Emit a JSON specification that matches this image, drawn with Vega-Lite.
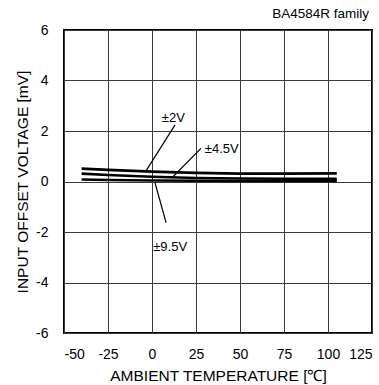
{
  "$schema": "https://vega.github.io/schema/vega-lite/v6.json",
  "width": 308,
  "height": 303,
  "autosize": "none",
  "padding": {"left": 64, "top": 30, "right": 7, "bottom": 52},
  "background": "white",
  "title": {"text": "BA4584R  family", "anchor": "end", "frame": "group", "offset": 3, "fontSize": 13.5, "fontWeight": "normal", "font": "Liberation Sans", "color": "black", "dx": -3},
  "config": {
    "font": "Liberation Sans",
    "view": {"stroke": "black", "strokeWidth": 2},
    "axis": {"labelFont": "Liberation Sans", "titleFont": "Liberation Sans", "labelFontSize": 14, "titleFontSize": 15.5, "titleFontWeight": "normal", "labelColor": "black", "titleColor": "black", "gridColor": "#3a3a3a", "gridOpacity": 1, "gridWidth": 1, "ticks": false, "domain": false, "labelExpr": "'' + datum.value"}
  },
  "datasets": {
    "curves": [
      {"temp": -40, "mv": 0.51, "series": "2V"},
      {"temp": -25, "mv": 0.46, "series": "2V"},
      {"temp": 0, "mv": 0.39, "series": "2V"},
      {"temp": 25, "mv": 0.34, "series": "2V"},
      {"temp": 50, "mv": 0.31, "series": "2V"},
      {"temp": 75, "mv": 0.31, "series": "2V"},
      {"temp": 105, "mv": 0.32, "series": "2V"},
      {"temp": -40, "mv": 0.31, "series": "4.5V"},
      {"temp": -25, "mv": 0.26, "series": "4.5V"},
      {"temp": 0, "mv": 0.19, "series": "4.5V"},
      {"temp": 25, "mv": 0.14, "series": "4.5V"},
      {"temp": 50, "mv": 0.12, "series": "4.5V"},
      {"temp": 75, "mv": 0.11, "series": "4.5V"},
      {"temp": 105, "mv": 0.11, "series": "4.5V"},
      {"temp": -40, "mv": 0.08, "series": "9.5V"},
      {"temp": -25, "mv": 0.06, "series": "9.5V"},
      {"temp": 0, "mv": 0.04, "series": "9.5V"},
      {"temp": 25, "mv": 0.03, "series": "9.5V"},
      {"temp": 50, "mv": 0.02, "series": "9.5V"},
      {"temp": 75, "mv": 0.02, "series": "9.5V"},
      {"temp": 105, "mv": 0.02, "series": "9.5V"}
    ],
    "leaders": [
      {"x1": 13.1, "y1": 2.24, "x2": -3.4, "y2": 0.42},
      {"x1": 27.8, "y1": 1.31, "x2": 11.8, "y2": 0.18},
      {"x1": 1.7, "y1": -0.05, "x2": 8.0, "y2": -1.63}
    ],
    "labels": [
      {"x": 5.6, "y": 2.5, "text": "±2V"},
      {"x": 30, "y": 1.27, "text": "±4.5V"},
      {"x": 0.7, "y": -2.58, "text": "±9.5V"}
    ]
  },
  "layer": [
    {
      "data": {"name": "curves"},
      "mark": {"type": "line", "color": "black", "strokeWidth": 2.6},
      "encoding": {
        "x": {"field": "temp", "type": "quantitative", "scale": {"domain": [-50, 125], "nice": false}, "axis": {"values": [-50, -25, 0, 25, 50, 75, 100, 125], "title": "AMBIENT TEMPERATURE [℃]", "labelPadding": 14, "titlePadding": 7, "grid": true}},
        "y": {"field": "mv", "type": "quantitative", "scale": {"domain": [-6, 6], "nice": false}, "axis": {"values": [-6, -4, -2, 0, 2, 4, 6], "title": "INPUT OFFSET VOLTAGE [mV]", "labelPadding": 16, "titlePadding": 5, "grid": true}},
        "detail": {"field": "series"}
      }
    },
    {
      "data": {"name": "leaders"},
      "mark": {"type": "rule", "color": "black", "strokeWidth": 1.2},
      "encoding": {
        "x": {"field": "x1", "type": "quantitative"},
        "y": {"field": "y1", "type": "quantitative"},
        "x2": {"field": "x2"},
        "y2": {"field": "y2"}
      }
    },
    {
      "data": {"name": "labels"},
      "mark": {"type": "text", "align": "left", "baseline": "middle", "fontSize": 13, "font": "Liberation Sans", "color": "black"},
      "encoding": {
        "x": {"field": "x", "type": "quantitative"},
        "y": {"field": "y", "type": "quantitative"},
        "text": {"field": "text"}
      }
    }
  ]
}
